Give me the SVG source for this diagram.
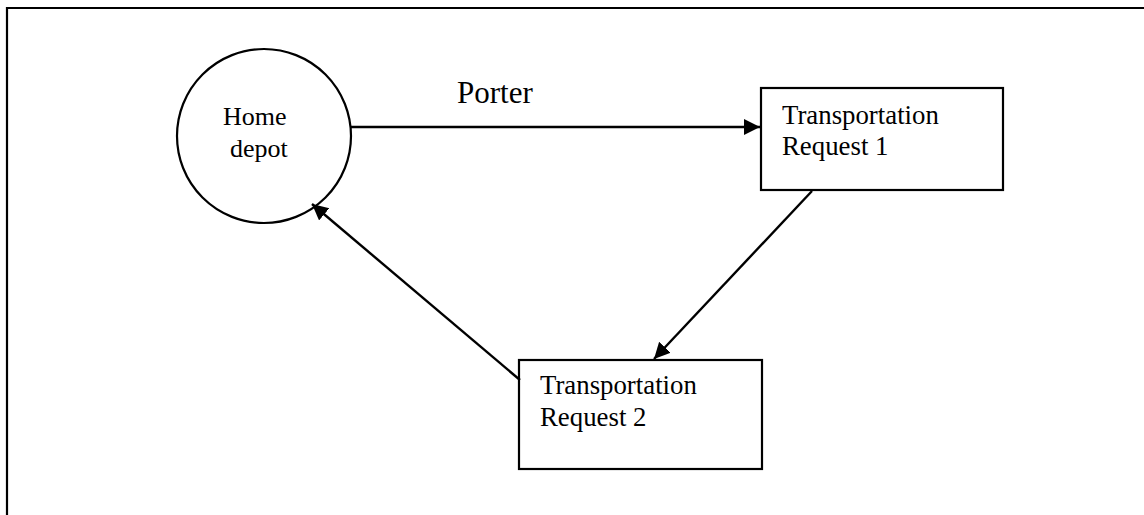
<svg xmlns="http://www.w3.org/2000/svg" width="1144" height="515" viewBox="0 0 1144 515">
<style>
.shape{fill:#fff;stroke:#000;stroke-width:2.2}
.lbl{font-family:"Liberation Serif","Times New Roman",serif;font-size:26px;fill:#000}
.box{font-size:26.8px}
.edge{stroke:#000;stroke-width:2.4;fill:none}
</style>
<defs>
<marker id="ah" markerUnits="userSpaceOnUse" markerWidth="18" markerHeight="18" refX="16" refY="8" orient="auto">
<path d="M0,0 L16,8 L0,16 z" fill="#000"/>
</marker>
</defs>
<rect width="1144" height="515" fill="#fff"/>
<g id="frame">
<path d="M7,520 L7,8 L1150,8" fill="none" stroke="#000" stroke-width="2.2"/>
</g>
<g id="home-depot">
<circle class="shape" cx="264" cy="136" r="87"/>
<text class="lbl" x="223" y="125">Home</text>
<text class="lbl" x="230" y="157">depot</text>
</g>
<g id="request-1">
<rect class="shape" x="761" y="88" width="242" height="102"/>
<text class="lbl box" x="782" y="124">Transportation</text>
<text class="lbl box" x="782" y="155">Request 1</text>
</g>
<g id="request-2">
<rect class="shape" x="519" y="360" width="243" height="109"/>
<text class="lbl box" x="540" y="394">Transportation</text>
<text class="lbl box" x="540" y="426">Request 2</text>
</g>
<g id="connectors">
<line class="edge" x1="351" y1="127" x2="760" y2="127" marker-end="url(#ah)"/>
<line class="edge" x1="812" y1="191" x2="654" y2="359" marker-end="url(#ah)"/>
<line class="edge" x1="520" y1="380" x2="312" y2="204" marker-end="url(#ah)"/>
<text x="457" y="103" font-family="Liberation Serif, Times New Roman, serif" font-size="31" fill="#000">Porter</text>
</g>
</svg>
